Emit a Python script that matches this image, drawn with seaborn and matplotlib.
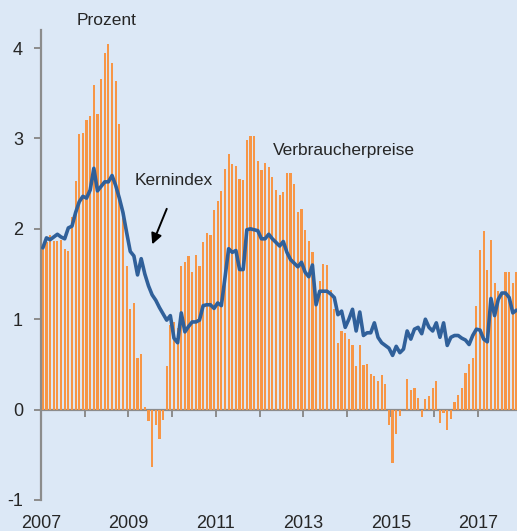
import numpy as np
import pandas as pd
import matplotlib
matplotlib.use("Agg")
import matplotlib.pyplot as plt
import seaborn as sns

# Monthly data, Jan 2007 - Nov 2017
start_year = 2007
verbraucherpreise = [
    # 2007
    1.80, 1.85, 1.93, 1.87, 1.87, 1.88, 1.78, 1.75, 2.13, 2.53, 3.05, 3.06,
    # 2008
    3.20, 3.25, 3.59, 3.27, 3.66, 3.95, 4.05, 3.84, 3.64, 3.16, 2.12, 1.59,
    # 2009
    1.11, 1.18, 0.57, 0.61, 0.03, -0.13, -0.64, -0.17, -0.32, -0.11, 0.48, 0.94,
    # 2010
    0.97, 0.90, 1.59, 1.63, 1.70, 1.52, 1.71, 1.59, 1.85, 1.95, 1.93, 2.21,
    # 2011
    2.31, 2.42, 2.66, 2.83, 2.72, 2.70, 2.55, 2.54, 2.98, 3.03, 3.03, 2.75,
    # 2012
    2.65, 2.73, 2.68, 2.57, 2.43, 2.37, 2.41, 2.62, 2.62, 2.50, 2.19, 2.22,
    # 2013
    1.99, 1.86, 1.74, 1.16, 1.42, 1.61, 1.60, 1.32, 1.11, 0.74, 0.87, 0.85,
    # 2014
    0.78, 0.71, 0.48, 0.71, 0.49, 0.50, 0.39, 0.37, 0.32, 0.38, 0.28, -0.17,
    # 2015
    -0.59, -0.27, -0.07, 0.00, 0.34, 0.22, 0.24, 0.13, -0.08, 0.12, 0.15, 0.24,
    # 2016
    0.32, -0.15, -0.04, -0.23, -0.10, 0.08, 0.16, 0.24, 0.41, 0.51, 0.57, 1.15,
    # 2017
    1.77, 1.98, 1.54, 1.88, 1.40, 1.31, 1.29, 1.52, 1.52, 1.40, 1.52,
]
kernindex = [
    # 2007
    1.79, 1.90, 1.88, 1.91, 1.94, 1.91, 1.89, 2.01, 2.03, 2.18, 2.30, 2.36,
    # 2008
    2.34, 2.43, 2.67, 2.42, 2.47, 2.52, 2.52, 2.59, 2.48, 2.34, 2.18, 1.96,
    # 2009
    1.75, 1.70, 1.49, 1.67, 1.50, 1.37, 1.27, 1.21, 1.13, 1.06, 0.99, 1.04,
    # 2010
    0.79, 0.74, 1.07, 0.86, 0.92, 0.97, 0.97, 0.99, 1.15, 1.16, 1.16, 1.12,
    # 2011
    1.18, 1.15, 1.46, 1.78, 1.74, 1.76, 1.55, 1.55, 1.99, 2.00, 1.99, 1.98,
    # 2012
    1.89, 1.89, 1.94, 1.89, 1.85, 1.81, 1.86, 1.74, 1.66, 1.62, 1.58, 1.63,
    # 2013
    1.52, 1.47, 1.60, 1.16, 1.31, 1.31, 1.31, 1.28, 1.24, 1.05, 1.09, 0.91,
    # 2014
    1.00, 1.11, 0.87, 1.08, 0.82, 0.85, 0.85, 0.96, 0.80, 0.74, 0.71, 0.68,
    # 2015
    0.60, 0.70, 0.63, 0.67, 0.87, 0.78, 0.89, 0.91, 0.84, 1.00, 0.91, 0.87,
    # 2016
    0.96, 0.80, 0.96, 0.71, 0.80, 0.82, 0.82, 0.79, 0.77, 0.72, 0.82, 0.89,
    # 2017
    0.88, 0.78, 0.75, 1.23, 1.04, 1.22, 1.29, 1.29, 1.24, 1.07, 1.10,
]
year_ticks = list(range(2007, 2018))
year_labels = ["2007", "", "2009", "", "2011", "", "2013", "", "2015", "", "2017"]
y_ticks = [-1, 0, 1, 2, 3, 4]

n = len(verbraucherpreise)
t = [round(start_year + (i + 0.5) / 12, 6) for i in range(n)]
df = pd.DataFrame({"t": t, "vp": verbraucherpreise, "core": kernindex})

BG = "#dce8f6"
ORANGE = "#f79646"
BLUE = "#30609a"
GRAY = "#8c8c8c"

sns.set_theme(style="white")
plt.rcParams["font.family"] = ["Liberation Sans", "DejaVu Sans"]
plt.rcParams["axes.unicode_minus"] = False

fig = plt.figure(figsize=(5.17, 5.31), dpi=100, facecolor=BG)
ax = fig.add_axes([41 / 517, 1 - 500 / 531, 1 - 41 / 517, 470 / 531])
ax.set_facecolor(BG)

sns.barplot(data=df, x="t", y="vp", native_scale=True, color=ORANGE,
            width=0.6, errorbar=None, saturation=1, ax=ax, zorder=2,
            linewidth=0, edgecolor=ORANGE)
sns.lineplot(data=df, x="t", y="core", color=BLUE, linewidth=2.6, ax=ax, zorder=3)

ymin, ymax = -1, 4.2
xmin, xmax = 2007, 2007 + 476 / 43.72
ax.set_xlim(xmin, xmax)
ax.set_ylim(ymin, ymax)

for s in ["top", "right", "bottom"]:
    ax.spines[s].set_visible(False)
ax.spines["left"].set_color(GRAY)
ax.spines["left"].set_linewidth(1.6)

ax.set_yticks(y_ticks)
ax.set_yticklabels([str(v) for v in y_ticks])
ax.tick_params(axis="y", direction="out", length=5, width=1.4, color=GRAY,
               labelsize=13, pad=8, left=True)
ax.set_xticks(year_ticks)
ax.set_xticklabels(year_labels)
ax.tick_params(axis="x", length=0, labelsize=13, pad=11, bottom=True)
ax.set_xlabel("")
ax.set_ylabel("")
ax.grid(False)

# zero line with yearly ticks
zero_frac = (0 - ymin) / (ymax - ymin)
sec = ax.secondary_xaxis(zero_frac)
sec.set_xticks(year_ticks)
sec.set_xticklabels([])
sec.spines["bottom"].set_color(GRAY)
sec.spines["bottom"].set_linewidth(1.6)
sec.tick_params(axis="x", direction="out", length=5, width=1.4, color=GRAY)

ax.text(2008.49, 4.31, "Prozent", ha="center", va="center", fontsize=12.5,
        clip_on=False)
ax.text(2010.04, 2.53, "Kernindex", ha="center", va="center", fontsize=12.5)
ax.annotate("", xy=(2009.52, 1.80), xytext=(2009.90, 2.25),
            arrowprops=dict(arrowstyle="-|>", color="black", lw=1.4,
                            mutation_scale=16))
ax.text(2013.93, 2.87, "Verbraucherpreise", ha="center", va="center",
        fontsize=12.5)

fig.savefig("out.png", dpi=100, facecolor=BG)
